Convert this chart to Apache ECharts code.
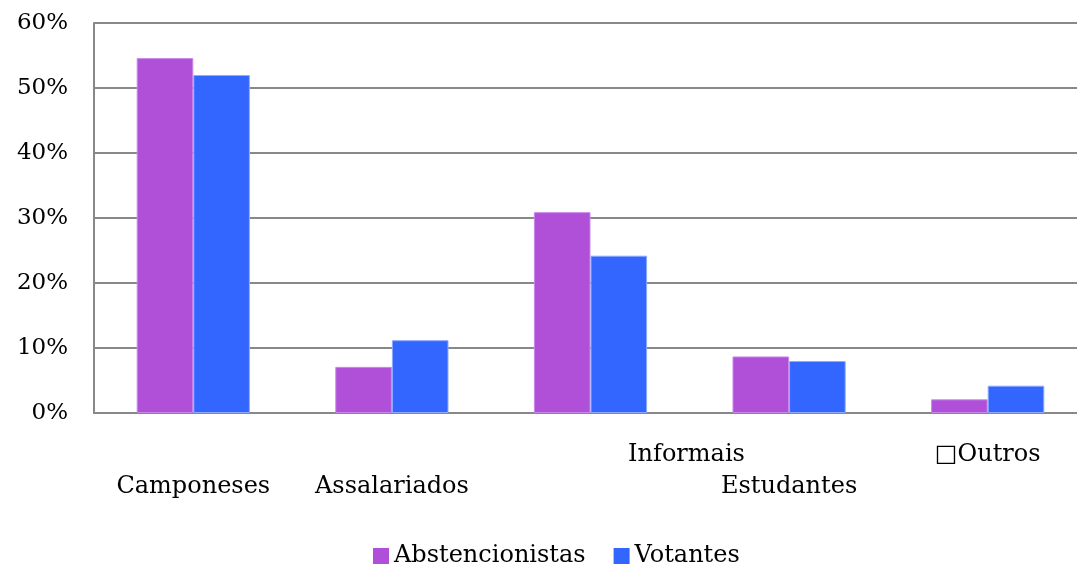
<!DOCTYPE html>
<html>
<head>
<meta charset="utf-8">
<script src="https://cdn.jsdelivr.net/npm/echarts@6/dist/echarts.min.js"></script>
<style>html,body{margin:0;padding:0;background:#fff;overflow:hidden}#c{width:1087px;height:564px}</style>
</head>
<body>
<div id="c"></div>
<script>
var categories = ['Camponeses', 'Assalariados', 'Informais', 'Estudantes', '\u25A1Outros'];
var abstencionistas = [54.6, 7.1, 30.9, 8.7, 2.1];
var votantes = [52.0, 11.2, 24.2, 8.0, 4.2];
var yTicks = [0, 10, 20, 30, 40, 50, 60];
// label placement per category: 'low' = second line, 'high' = first line, 'highShift' = first line shifted right
var labelRow = ['low', 'low', 'highShift', 'low', 'high'];

var FONT = '"DejaVu Serif", serif';
var FS = 24;
var chart = echarts.init(document.getElementById('c'));
chart.setOption({
  animation: false,
  backgroundColor: '#fff',
  grid: { left: 94, top: 23, right: 0, height: 390, containLabel: false },
  legend: {
    top: 539, left: 368,
    itemWidth: 16, itemHeight: 16, itemGap: 28, icon: 'rect',
    itemStyle: { borderWidth: 0 },
    textStyle: { fontFamily: FONT, fontSize: FS, color: '#000' },
    data: ['Abstencionistas', 'Votantes']
  },
  xAxis: {
    type: 'category',
    data: categories,
    axisLine: { show: true, lineStyle: { color: '#888', width: 2 } },
    axisTick: { show: false },
    axisLabel: {
      interval: 0,
      margin: 30,
      fontFamily: FONT, fontSize: FS, color: '#000',
      formatter: function (v, i) {
        var r = labelRow[i];
        if (r === 'low') return '{low|' + v + '}';
        if (r === 'highShift') return '{shift|' + v + '}';
        return '{high|' + v + '}';
      },
      rich: {
        low: { fontFamily: FONT, fontSize: FS, color: '#000', padding: [32, 0, 0, 0] },
        high: { fontFamily: FONT, fontSize: FS, color: '#000' },
        shift: { fontFamily: FONT, fontSize: FS, color: '#000', padding: [0, 0, 0, 192] }
      }
    }
  },
  yAxis: {
    type: 'value',
    min: 0, max: 60, interval: 10,
    axisLine: { show: true, lineStyle: { color: '#888', width: 2 } },
    axisTick: { show: false },
    splitLine: { show: true, lineStyle: { color: '#888', width: 2 } },
    axisLabel: {
      margin: 26,
      fontFamily: FONT, fontSize: 23, color: '#000',
      formatter: function (v) { return yTicks.indexOf(v) >= 0 ? v + '%' : ''; }
    }
  },
  series: [
    {
      name: 'Abstencionistas', type: 'bar', data: abstencionistas,
      barGap: '0%', barCategoryGap: '43%',
      itemStyle: { color: '#B050D8', borderColor: '#C888EA', borderWidth: 1 }
    },
    {
      name: 'Votantes', type: 'bar', data: votantes,
      itemStyle: { color: '#3366FF', borderColor: '#8FAAFF', borderWidth: 1 }
    }
  ]
});
</script>
</body>
</html>
